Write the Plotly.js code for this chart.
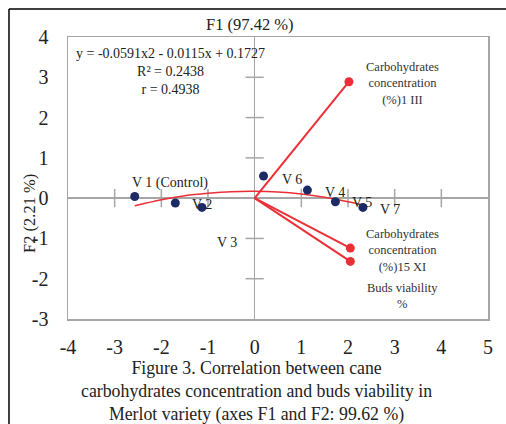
<!DOCTYPE html>
<html><head><meta charset="utf-8">
<script src="https://cdn.plot.ly/plotly-3.0.1.min.js"></script>
<style>html,body{margin:0;padding:0;background:#fff}#chart{width:506px;height:424px}</style>
</head><body><div id="chart"></div>
<script>
const obsNames = ["V 1 (Control)", "V 2", "V 3", "V 4", "V 5", "V 6", "V 7"];
const obsF1 = [-2.57, -1.70, -1.13, 0.19, 1.13, 1.73, 2.32];
const obsF2 = [0.04, -0.12, -0.23, 0.55, 0.20, -0.09, -0.23];

// Variables (vectors from origin)
const varNames = ["Carbohydrates<br>concentration<br>(%)1 III", "Carbohydrates<br>concentration<br>(%)15 XI", "Buds viability<br>%"];
const varF1 = [2.02, 2.05, 2.05];
const varF2 = [2.89, -1.24, -1.57];

// Trend line
const trendX = [-2.57, -2.0, -1.5, -1.0, -0.5, 0.0, 0.5, 1.0, 1.5, 2.0, 2.32];
const trendY = [-0.19, -0.04, 0.06, 0.12, 0.16, 0.17, 0.15, 0.10, 0.02, -0.09, -0.17];

const xTicks = [-4, -3, -2, -1, 0, 1, 2, 3, 4, 5];
const xTickText = ["-4", "-3", "-2", "-1", "0", "1", "2", "3", "4", "5"];
const yTicks = [-3, -2, -1, 0, 1, 2, 3, 4];
const yTickText = ["-3", "-2", "-1", "0", "1", "2", "3", "4"];

const eqText = "y = -0.0591x2 - 0.0115x + 0.1727<br>R² = 0.2438<br>r = 0.4938";
const xTitle = "F1 (97.42 %)";
const yTitle = "F2 (2.21 %)";
const caption = "Figure 3. Correlation between cane<br>carbohydrates concentration and buds viability in<br>Merlot variety (axes F1 and F2: 99.62 %)";

const RED = "#ec2f37", NAVY = "#1c2a66", GRID = "#a6a6a6";
const serif = "Liberation Serif, Times New Roman, serif";

const traces = [];
// cross tick marks on zero axes
const xt = xTicks.filter(v => v !== 0 && v !== -4 && v !== 5);
const yt = yTicks.filter(v => v !== 0 && v !== -3 && v !== 4);
traces.push({x: xt, y: xt.map(() => 0), mode: "markers", hoverinfo: "skip",
  marker: {symbol: "line-ns", size: 13, line: {color: GRID, width: 1.5}}});
traces.push({x: yt.map(() => 0), y: yt, mode: "markers", hoverinfo: "skip",
  marker: {symbol: "line-ew", size: 13, line: {color: GRID, width: 1.5}}});
// vectors
varF1.forEach((v, i) => {
  traces.push({x: [0, v], y: [0, varF2[i]], mode: "lines", line: {color: RED, width: 2}});
});
traces.push({x: varF1, y: varF2, mode: "markers", marker: {color: RED, size: 9, opacity: 1, line: {width: 0}}});
// trend
traces.push({x: trendX, y: trendY, mode: "lines", line: {color: RED, width: 1.5, shape: "spline"}});
// observations
traces.push({x: obsF1, y: obsF2, mode: "markers", marker: {color: NAVY, size: 9, opacity: 1}});

const obsLabelPos = [[-1.82, 0.37], [-1.12, -0.17], [-0.6, -1.09], [1.73, 0.15], [2.29, -0.12], [0.79, 0.47], [2.91, -0.27]];
const varLabelPos = [[3.17, 2.85], [3.17, -1.29], [3.17, -2.43]];

const annotations = [];
obsNames.forEach((n, i) => annotations.push({x: obsLabelPos[i][0], y: obsLabelPos[i][1], text: n,
  xanchor: "center", yanchor: "middle",
  showarrow: false, font: {family: serif, size: 14, color: "#222"}}));
varNames.forEach((n, i) => annotations.push({x: varLabelPos[i][0], y: varLabelPos[i][1], text: n,
  xanchor: "center", yanchor: "middle",
  showarrow: false, font: {family: serif, size: 12.5, color: "#333"}}));
annotations.push({xref: "paper", yref: "paper", x: 0.243, y: 0.879, xanchor: "center", yanchor: "middle",
  text: eqText, showarrow: false,
  font: {family: serif, size: 14, color: "#222"}, align: "center"});
annotations.push({xref: "paper", yref: "paper", x: 0.433, y: 1.046, xanchor: "center", yanchor: "middle",
  text: xTitle, showarrow: false,
  font: {family: serif, size: 16.5, color: "#222"}});
annotations.push({xref: "paper", yref: "paper", x: -0.0905, y: 0.376, xanchor: "center", yanchor: "middle",
  text: yTitle, showarrow: false,
  textangle: -90, font: {family: serif, size: 16.5, color: "#222"}});
annotations.push({xref: "paper", yref: "paper", x: 0.448, y: 0, yshift: -37, xanchor: "center", yanchor: "top",
  text: caption, showarrow: false,
  font: {family: serif, size: 17.8, color: "#222"}, align: "center"});

const layout = {
  width: 506, height: 424,
  margin: {l: 68, r: 18, t: 37, b: 105},
  showlegend: false,
  paper_bgcolor: "#fff", plot_bgcolor: "#fff",
  xaxis: {range: [-4, 5], tickvals: xTicks, ticktext: xTickText, showgrid: false,
    zeroline: true, zerolinecolor: GRID, zerolinewidth: 1.5,
    showline: true, mirror: true, linecolor: GRID, linewidth: 1.5, ticks: "", ticklabelstandoff: 9,
    tickfont: {family: serif, size: 20, color: "#222"}, fixedrange: true},
  yaxis: {range: [-3, 4], tickvals: yTicks, ticktext: yTickText, showgrid: false,
    zeroline: true, zerolinecolor: GRID, zerolinewidth: 1.5,
    showline: true, mirror: true, linecolor: GRID, linewidth: 1.5, ticks: "", ticklabelstandoff: 14,
    tickfont: {family: serif, size: 20, color: "#222"}, fixedrange: true},
  annotations: annotations,
  shapes: [
    {type: "line", xref: "paper", yref: "paper", x0: -0.1405, x1: -0.1405, y0: -0.4, y1: 1.099,
      line: {color: "#000", width: 1.5}},
    {type: "line", xref: "paper", yref: "paper", x0: -0.1405, x1: 1.1, y0: 1.099, y1: 1.099,
      line: {color: "#000", width: 1.5}}
  ]
};

Plotly.newPlot("chart", traces, layout, {displayModeBar: false, staticPlot: true});
</script></body></html>
